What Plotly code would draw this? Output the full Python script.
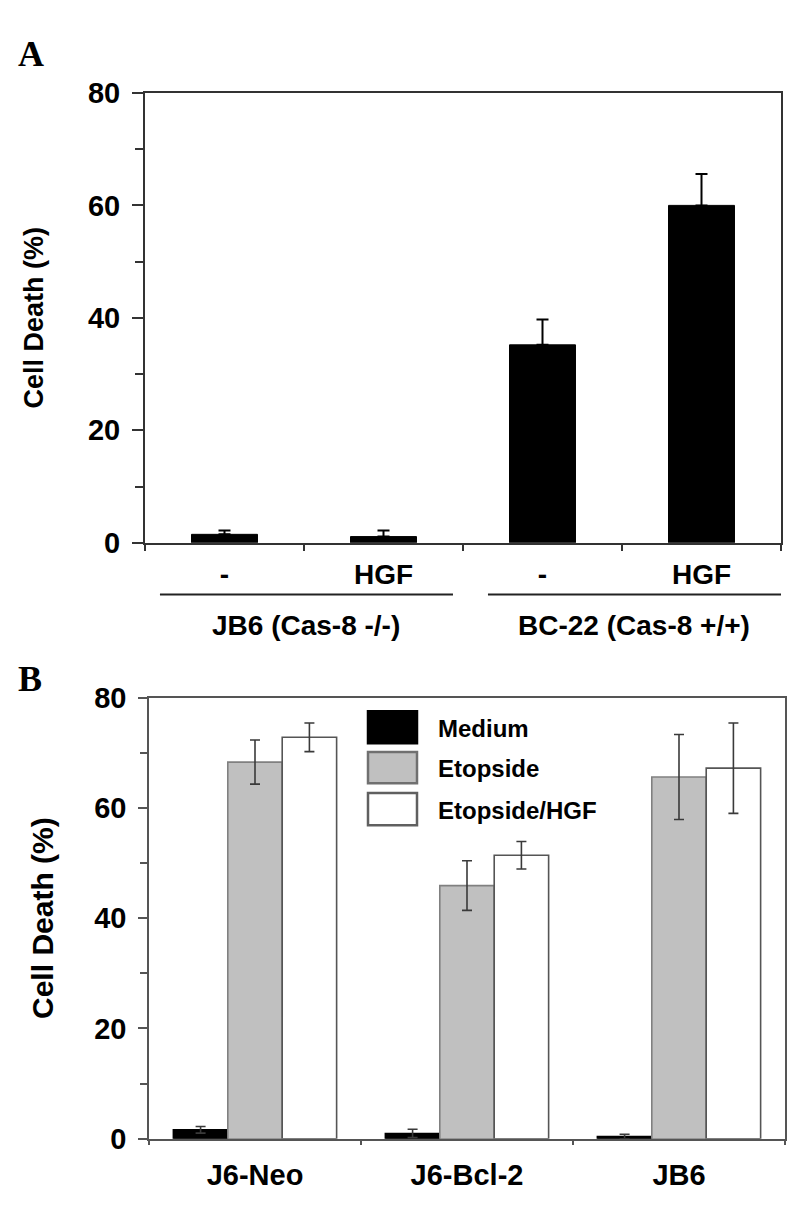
import plotly.graph_objects as go

# ---------- data ----------
a_labels = ["-", "HGF", "-", "HGF"]
a_values = [1.5, 1.1, 35.2, 60.0]
a_errors = [0.7, 1.1, 4.5, 5.6]
a_groups = ["JB6 (Cas-8 -/-)", "BC-22 (Cas-8 +/+)"]

b_categories = ["J6-Neo", "J6-Bcl-2", "JB6"]
b_series = ["Medium", "Etopside", "Etopside/HGF"]
b_medium = [1.6, 0.95, 0.4]
b_medium_err = [0.6, 0.75, 0.4]
b_etop = [68.3, 45.9, 65.6]
b_etop_err = [4.0, 4.5, 7.7]
b_etophgf = [72.8, 51.4, 67.2]
b_etophgf_err = [2.6, 2.5, 8.2]

y_ticks = [0, 20, 40, 60, 80]

# ---------- style ----------
FONT = "Liberation Sans, Arial, sans-serif"
W, H = 800, 1217
axis_col = "#333333"

def px_x(p):
    return p / W

def px_y(p):
    return 1 - p / H

fig = go.Figure()

# Panel A bars
a_x = list(range(len(a_values)))
fig.add_trace(go.Bar(
    x=a_x, y=a_values, width=0.415,
    marker=dict(color="black", line=dict(color="black", width=1)),
    error_y=dict(type="data", array=a_errors, arrayminus=[0] * len(a_errors),
                 symmetric=False, color="black", thickness=2, width=6),
    xaxis="x", yaxis="y", showlegend=False,
))

# Panel B bars
b_specs = [
    (b_series[0], b_medium, b_medium_err, "black", "black"),
    (b_series[1], b_etop, b_etop_err, "#c0c0c0", "#808080"),
    (b_series[2], b_etophgf, b_etophgf_err, "white", "#555555"),
]
for name, vals, errs, fill, line in b_specs:
    fig.add_trace(go.Bar(
        x=b_categories, y=vals, name=name,
        marker=dict(color=fill, line=dict(color=line, width=1.6)),
        error_y=dict(type="data", array=errs, color="#3a3a3a", thickness=1.6, width=5),
        xaxis="x2", yaxis="y2", showlegend=False,
    ))

fig.update_layout(
    width=W, height=H,
    margin=dict(l=0, r=0, t=0, b=0),
    paper_bgcolor="white", plot_bgcolor="white",
    barmode="group", bargap=0.23, bargroupgap=0,
    font=dict(family=FONT, color="black"),
    xaxis=dict(
        domain=[px_x(145), px_x(781)], anchor="y",
        range=[-0.5, 3.5], tickvals=a_x, ticktext=[f"<b>{t}</b>" for t in a_labels],
        ticks="", tickfont=dict(size=28), ticklabelstandoff=6,
        showline=True, linecolor=axis_col, linewidth=2, mirror=True,
        showgrid=False, zeroline=False,
        minor=dict(tick0=-0.5, dtick=1, ticks="outside", ticklen=6,
                   tickcolor=axis_col, tickwidth=1.5, showgrid=False),
    ),
    yaxis=dict(
        domain=[px_y(541), px_y(79)], anchor="x",
        range=[0, 80], tickvals=y_ticks, ticktext=[f"<b>{v}</b>" for v in y_ticks],
        ticks="outside", ticklen=11, tickwidth=1.5, tickcolor=axis_col,
        tickfont=dict(size=29), ticklabelstandoff=6,
        showline=True, linecolor=axis_col, linewidth=2, mirror=True,
        showgrid=False, zeroline=False,
        minor=dict(tick0=0, dtick=10, ticks="outside", ticklen=8,
                   tickcolor=axis_col, tickwidth=1.5, showgrid=False),
        title=dict(text="<b>Cell Death (%)</b>", font=dict(size=27), standoff=36),
    ),
    xaxis2=dict(
        domain=[px_x(149), px_x(785)], anchor="y2",
        type="category", tickson="boundaries",
        ticktext=[f"<b>{c}</b>" for c in b_categories], tickvals=b_categories,
        ticks="outside", ticklen=5, tickwidth=1.5, tickcolor="#555555",
        tickfont=dict(size=29), ticklabelstandoff=10,
        showline=True, linecolor="#555555", linewidth=1.6, mirror=True,
        showgrid=False, zeroline=False,
    ),
    yaxis2=dict(
        domain=[px_y(1153), px_y(700)], anchor="x2",
        range=[0, 80], tickvals=y_ticks, ticktext=[f"<b>{v}</b>" for v in y_ticks],
        ticks="outside", ticklen=9, tickwidth=1.5, tickcolor="#555555",
        tickfont=dict(size=29), ticklabelstandoff=6,
        showline=True, linecolor="#555555", linewidth=1.6, mirror=True,
        showgrid=False, zeroline=False,
        minor=dict(tick0=0, dtick=10, ticks="outside", ticklen=7,
                   tickcolor="#555555", tickwidth=1.5, showgrid=False),
        title=dict(text="<b>Cell Death (%)</b>", font=dict(size=30), standoff=32),
    ),
)

# Panel letters
fig.add_annotation(text="<b>A</b>", x=px_x(16), y=px_y(16), xref="paper", yref="paper",
                   xanchor="left", yanchor="top", showarrow=False,
                   font=dict(family="Liberation Serif, Times New Roman, serif", size=36))
fig.add_annotation(text="<b>B</b>", x=px_x(16), y=px_y(658), xref="paper", yref="paper",
                   xanchor="left", yanchor="top", showarrow=False,
                   font=dict(family="Liberation Serif, Times New Roman, serif", size=36))

# Panel A group underlines and labels
group_spans = [(-0.406, 1.437), (1.657, 3.5)]
for (x0, x1), label in zip(group_spans, a_groups):
    fig.add_shape(type="line", xref="x", yref="paper", x0=x0, x1=x1,
                  y0=px_y(594), y1=px_y(594), line=dict(color="#222222", width=2))
    fig.add_annotation(text=f"<b>{label}</b>", x=(x0 + x1) / 2, y=px_y(626),
                       xref="x", yref="paper", showarrow=False,
                       xanchor="center", yanchor="middle", font=dict(size=28))

# Panel B legend (drawn manually to match large swatches)
legend_rows = [
    (b_series[0], "black", "black", 714, 747),
    (b_series[1], "#c0c0c0", "#707070", 756, 788),
    (b_series[2], "white", "#606060", 798, 831),
]
for name, fill, line, top, bot in legend_rows:
    fig.add_shape(type="rect", xref="paper", yref="paper",
                  x0=px_x(368), x1=px_x(417), y0=px_y(bot), y1=px_y(top),
                  fillcolor=fill, line=dict(color=line, width=2.5))
    fig.add_annotation(text=f"<b>{name}</b>", x=px_x(436), y=px_y((top + bot) / 2 + 1),
                       xref="paper", yref="paper", showarrow=False,
                       xanchor="left", yanchor="middle", font=dict(size=24))

fig.write_html("out.html", config={"displayModeBar": False},
               post_script="document.body.style.margin='0';")
